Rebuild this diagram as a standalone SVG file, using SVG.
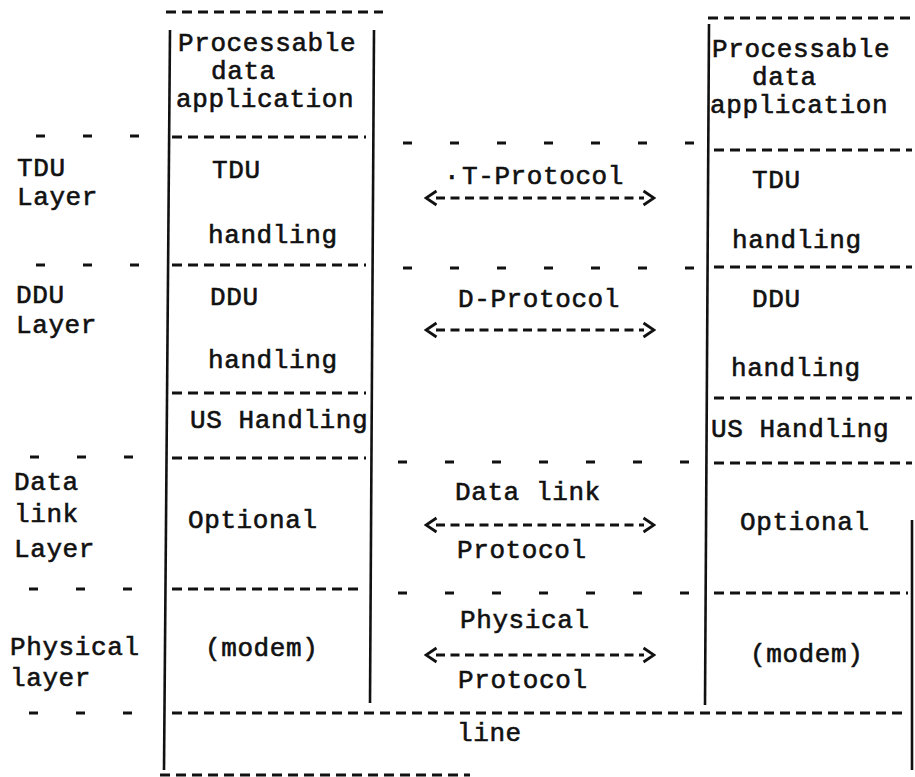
<svg xmlns="http://www.w3.org/2000/svg" width="915" height="777" viewBox="0 0 915 777">
  <style>
    text { font-family: "Liberation Mono", "Courier New", monospace; font-size: 26px; letter-spacing: 0.6px; fill: #111; stroke: #111; stroke-width: 0.6px; }
    .sep { stroke: #111; stroke-width: 3.2; stroke-dasharray: 10 6; fill: none; }
    .tick { stroke: #111; stroke-width: 3.2; stroke-dasharray: 9 38; fill: none; }
    .edge { stroke: #111; stroke-width: 2.6; fill: none; }
    .arrow { stroke: #111; stroke-width: 3.2; stroke-dasharray: 9 5.5; fill: none; }
  </style>
  <defs>
    <marker id="chev" viewBox="0 0 14 18" refX="2" refY="9" markerWidth="14" markerHeight="18" markerUnits="userSpaceOnUse" orient="auto-start-reverse">
      <path d="M1.5 2 L12 9 L1.5 16" fill="none" stroke="#111" stroke-width="2.8"/>
    </marker>
  </defs>
  <rect width="915" height="777" fill="#fff"/>

  <g id="layer-labels">
    <text x="17" y="176">TDU</text>
    <text x="17" y="205">Layer</text>
    <text x="16" y="303">DDU</text>
    <text x="16" y="333">Layer</text>
    <text x="14" y="490">Data</text>
    <text x="14" y="522">link</text>
    <text x="14" y="557">Layer</text>
    <text x="10" y="655">Physical</text>
    <text x="10" y="686">layer</text>
    <path class="tick" d="M36 136 H150"/>
    <path class="tick" d="M36 265 H150"/>
    <path class="tick" d="M30 457 H145"/>
    <path class="tick" d="M29 589 H145"/>
    <path class="tick" d="M29 713 H145"/>
  </g>

  <g id="left-stack">
    <path class="sep" d="M166 12 H383"/>
    <path class="edge" d="M170 30 L164 770"/>
    <path class="edge" d="M374 30 L370 703"/>
    <text x="178" y="51">Processable</text>
    <text x="211" y="79">data</text>
    <text x="176" y="107">application</text>
    <path class="sep" d="M172 137 H366"/>
    <text x="212" y="178">TDU</text>
    <text x="208" y="243">handling</text>
    <path class="sep" d="M172 265 H366"/>
    <text x="210" y="305">DDU</text>
    <text x="208" y="368">handling</text>
    <path class="sep" d="M172 393 H366"/>
    <text x="190" y="428">US Handling</text>
    <path class="sep" d="M172 458 H366"/>
    <text x="188" y="528">Optional</text>
    <path class="sep" d="M172 589 H362"/>
    <text x="205" y="656">(modem)</text>
  </g>

  <g id="right-stack">
    <path class="sep" d="M708 18 H915"/>
    <path class="edge" d="M709 24 L705 705"/>
    <path class="edge" d="M912 520 V770"/>
    <text x="712" y="57">Processable</text>
    <text x="752" y="85">data</text>
    <text x="710" y="113">application</text>
    <path class="sep" d="M714 150 H912"/>
    <text x="752" y="188">TDU</text>
    <text x="732" y="248">handling</text>
    <path class="sep" d="M714 267 H912"/>
    <text x="752" y="307">DDU</text>
    <text x="731" y="376">handling</text>
    <path class="sep" d="M714 398 H912"/>
    <text x="711" y="437">US Handling</text>
    <path class="sep" d="M714 463 H912"/>
    <text x="740" y="530">Optional</text>
    <path class="sep" d="M714 593 H908"/>
    <text x="750" y="662">(modem)</text>
  </g>

  <g id="line-medium">
    <path class="sep" d="M172 713 H908"/>
    <text x="457" y="741">line</text>
    <path class="sep" d="M160 775 H470"/>
  </g>

  <g id="protocols">
    <path class="tick" d="M403 143 H700"/>
    <text x="444" y="184">·</text>
    <text x="462" y="184">T-Protocol</text>
    <path class="tick" d="M403 268 H700"/>
    <text x="458" y="307">D-Protocol</text>
    <path class="tick" d="M398 462 H700"/>
    <text x="455" y="500">Data link</text>
    <text x="457" y="558">Protocol</text>
    <path class="tick" d="M398 593 H700"/>
    <text x="460" y="628">Physical</text>
    <text x="458" y="688">Protocol</text>
  </g>

  <g id="connectors">
    <path class="arrow" d="M436 198 H644" marker-start="url(#chev)" marker-end="url(#chev)"/>
    <path class="arrow" d="M436 330 H644" marker-start="url(#chev)" marker-end="url(#chev)"/>
    <path class="arrow" d="M436 525 H644" marker-start="url(#chev)" marker-end="url(#chev)"/>
    <path class="arrow" d="M436 655 H644" marker-start="url(#chev)" marker-end="url(#chev)"/>
  </g>
</svg>
